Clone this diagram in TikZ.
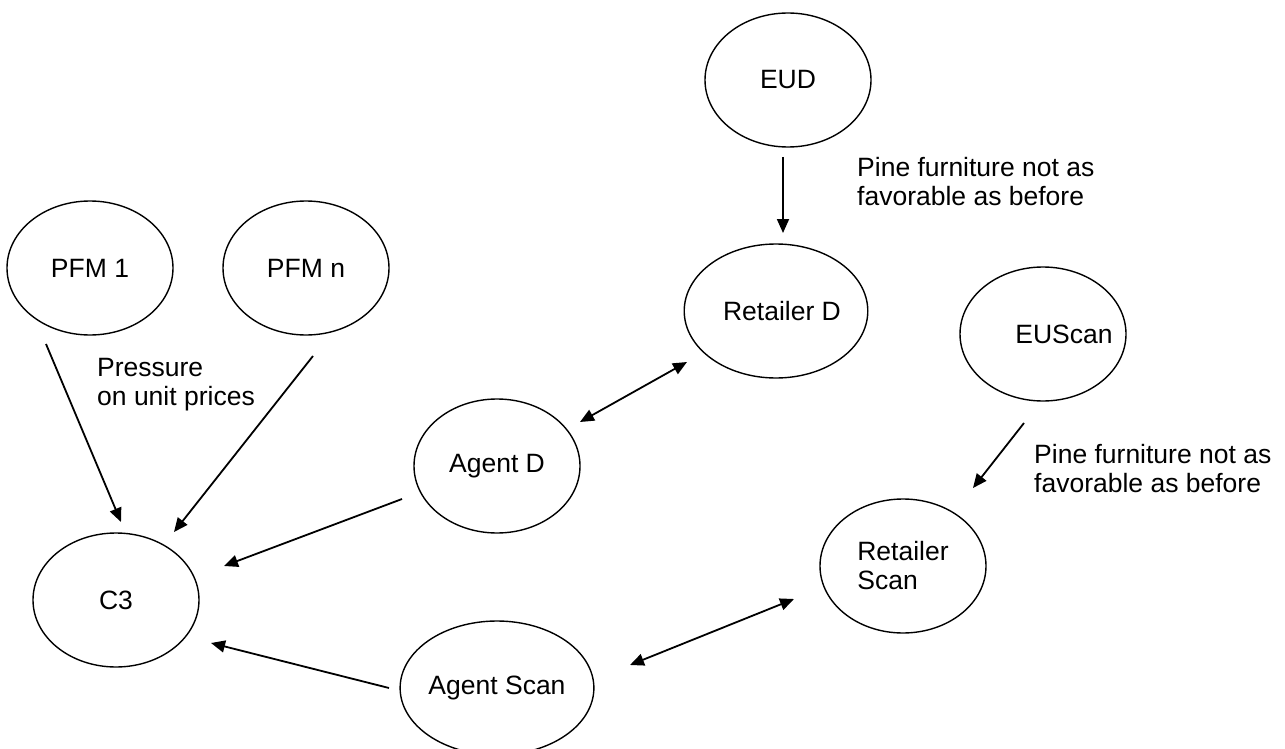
\documentclass[tikz,border=0pt]{standalone}
\usepackage{fontspec}
\setmainfont{Liberation Sans}
\usetikzlibrary{shapes.geometric,arrows.meta}
\begin{document}
\begin{tikzpicture}[x=1pt,y=-1pt,
  ent/.style={draw, ellipse, line width=1.4pt, minimum width=166pt, minimum height=134pt, inner sep=0pt,
    font=\fontsize{26.5}{29}\selectfont, align=center},
  lbl/.style={font=\fontsize{26.5}{29}\selectfont, align=left, anchor=west, inner sep=0pt},
  arr/.style={line width=1.8pt, -{Triangle[length=14pt,width=12pt]}},
  darr/.style={line width=1.8pt, {Triangle[length=14pt,width=12pt]}-{Triangle[length=14pt,width=12pt]}}]
\useasboundingbox (0,0) rectangle (1285,749);
\fill[white] (0,0) rectangle (1285,749);
% nodes
\node[ent] (EUD) at (788,80) {EUD};
\node[ent] (PFM1) at (90,268) {PFM 1};
\node[ent] (PFMn) at (306,268) {PFM n};
\node[ent] (RetD) at (776,311) {\hspace*{12pt}Retailer D};
\node[ent, label={[font=\fontsize{26.5}{29}\selectfont, xshift=21pt]center:EUScan}] (EUScan) at (1043,334) {};
\node[ent] (AgentD) at (497,466) {Agent D};
\node[ent, align=left] (RetScan) at (903,566) {Retailer\\Scan};
\node[ent] (C3) at (116,600) {C3};
\node[ent] (AgentScan) at (497,688) {Agent Scan};
% labels
\node[lbl] (t1) at (97,385) {Pressure\\on unit prices};
\node[lbl] (t2) at (857,182) {Pine furniture not as\\favorable as before};
\node[lbl] (t3) at (1034,469) {Pine furniture not as\\favorable as before};
% connector end points
\coordinate (a1) at (783,157); \coordinate (b1) at (783,233);
\coordinate (a2) at (580,422); \coordinate (b2) at (687,362);
\coordinate (a3) at (1024,423); \coordinate (b3) at (973,488);
\coordinate (a4) at (630,665); \coordinate (b4) at (794,599);
\coordinate (a5) at (46,344); \coordinate (b5) at (121,522);
\coordinate (a6) at (313,356); \coordinate (b6) at (174,532);
\coordinate (a7) at (402,499); \coordinate (b7) at (224,566);
\coordinate (a8) at (389,688); \coordinate (b8) at (211,643);
% connectors
\draw[arr] (a1) -- (b1);
\draw[darr] (a2) -- (b2);
\draw[arr] (a3) -- (b3);
\draw[darr] (a4) -- (b4);
\draw[arr] (a5) -- (b5);
\draw[arr] (a6) -- (b6);
\draw[arr] (a7) -- (b7);
\draw[arr] (a8) -- (b8);
\end{tikzpicture}
\end{document}
